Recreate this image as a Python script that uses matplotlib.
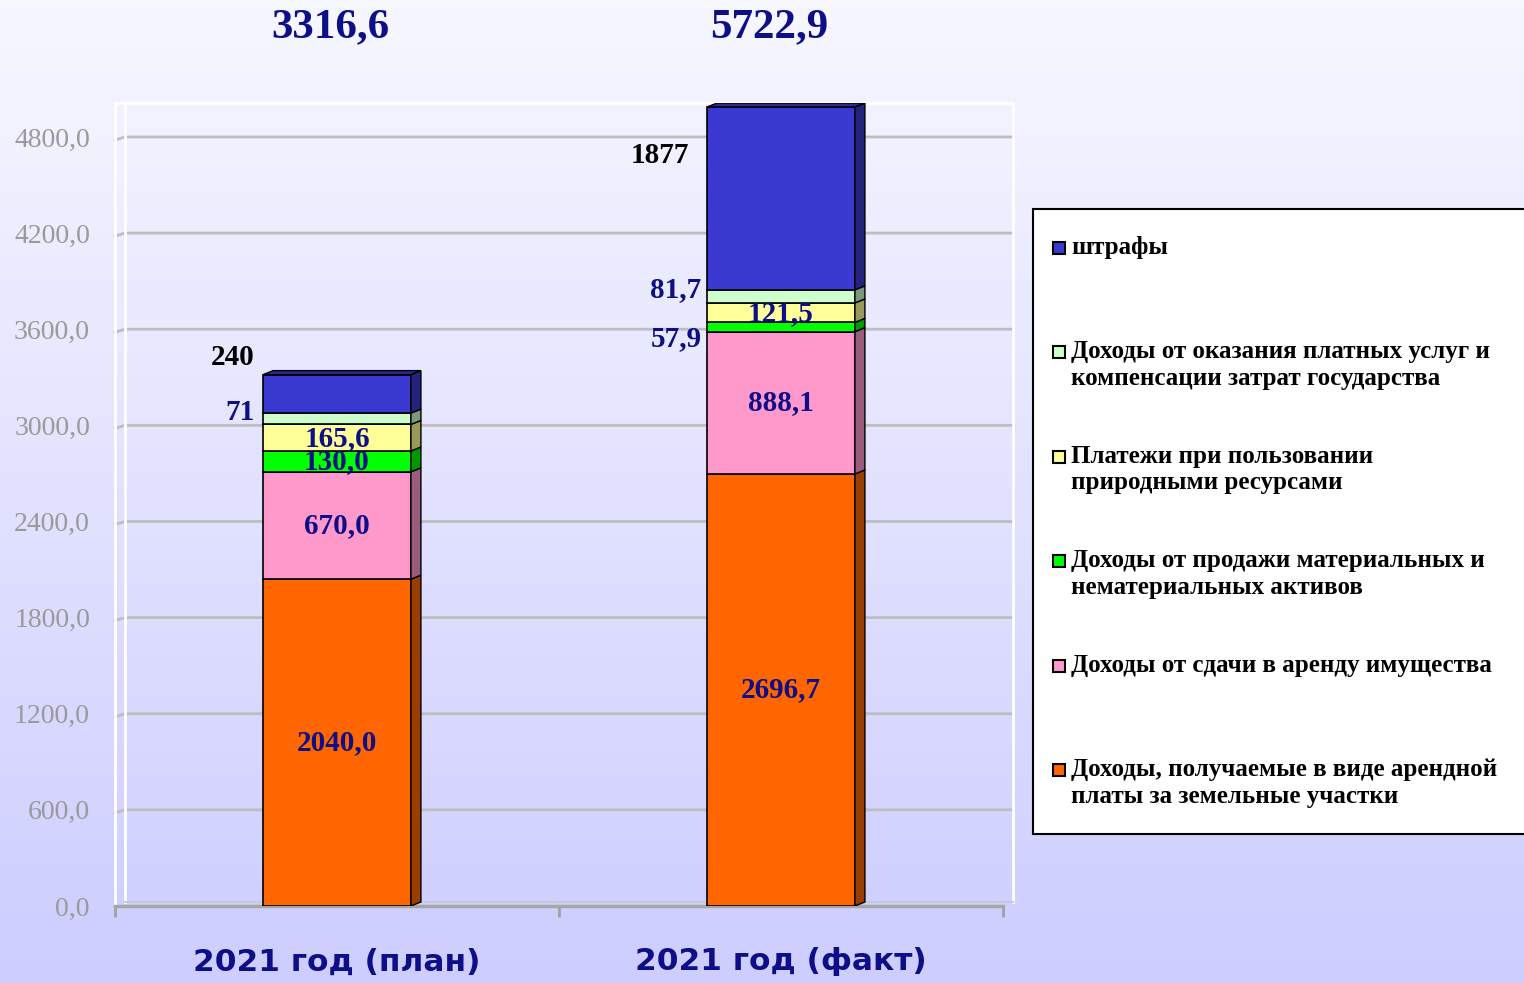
import numpy as np
import matplotlib.pyplot as plt
from matplotlib.patches import Polygon, Rectangle
from matplotlib.colors import to_rgb

periods = ["2021 год (план)", "2021 год (факт)"]
totals = ["3316,6", "5722,9"]

# статьи доходов, снизу вверх
series = ["Доходы, получаемые в виде арендной\nплаты за земельные участки",
          "Доходы от сдачи в аренду имущества",
          "Доходы от продажи материальных и\nнематериальных активов",
          "Платежи при пользовании\nприродными ресурсами",
          "Доходы от оказания платных услуг и\nкомпенсации затрат государства",
          "штрафы"]
colors = ["#FF6600", "#FF99CC", "#00FF00", "#FFFF99", "#CCFFCC", "#3A3AD0"]

plan = [2040.0, 670.0, 130.0, 165.6, 71.0, 240.0]
fact = [2696.7, 888.1, 57.9, 121.5, 81.7, 1877.0]
plan_labels = ["2040,0", "670,0", "130,0", "165,6", "71", "240"]
fact_labels = ["2696,7", "888,1", "57,9", "121,5", "81,7", "1877"]

# где ставить подпись: в сегменте или слева от столбца
plan_where = ["in", "in", "in", "in", "left", "left"]
fact_where = ["in", "in", "left", "in", "left", "left"]
plan_dy = [0, 0, 0, -5, 40, 224]
fact_dy = [0, 0, -70, -5, 40, -103]

yticks = np.arange(0, 4801, 600)

YMAX = 5012
DX = 0.0225   # глубина "3D" по x
DY = 25       # глубина по y
W = 0.333
NAVY = "#0E0E88"
SERIF = ["Liberation Serif", "DejaVu Serif"]


def darker(c, k=0.6):
    r, g, b = to_rgb(c)
    return (r * k, g * k, b * k)


fig = plt.figure(figsize=(15.24, 9.83), dpi=100)

# фон с градиентом
bg = fig.add_axes([0, 0, 1, 1], zorder=-10)
top_c = np.array([247, 247, 255]) / 255
bot_c = np.array([205, 205, 255]) / 255
t = np.linspace(0, 1, 256)[:, None, None]
grad = top_c * (1 - t) + bot_c * t
bg.imshow(np.repeat(grad, 2, axis=1), aspect="auto", extent=[0, 1, 0, 1])
bg.axis("off")

ax = fig.add_axes([115 / 1524, 77 / 983, 888 / 1524, 803 / 983])
ax.set_facecolor("none")
ax.set_xlim(-0.5, 1.5)
ax.set_ylim(0, YMAX)

# сетка на задней стенке
for yv in yticks[1:]:
    ax.plot([-0.5, -0.5 + DX, 1.5 + DX], [yv - 19, yv, yv], color="#BEBEBE",
            lw=2, clip_on=False, zorder=1)
# стенки
ax.plot([-0.5 + DX, -0.5 + DX], [DY, YMAX], color="white", lw=2, clip_on=False, zorder=1)
ax.plot([1.5 + DX, 1.5 + DX], [DY, YMAX], color="white", lw=2, clip_on=False, zorder=1)
ax.plot([-0.5, 1.5 + DX], [YMAX, YMAX], color="white", lw=2, clip_on=False, zorder=1)
ax.plot([-0.5 + DX, 1.5 + DX], [DY, DY], color="#C8C8D8", lw=1.5, clip_on=False, zorder=1)

for i, (vals, labs, where, dys) in enumerate([(plan, plan_labels, plan_where, plan_dy),
                                              (fact, fact_labels, fact_where, fact_dy)]):
    bottom = 0.0
    top_vis = YMAX - DY
    x_l = i - W / 2
    x_r = i + W / 2
    for j, v in enumerate(vals):
        b = min(bottom, top_vis)
        h = min(bottom + v, top_vis) - b
        ax.bar(i, h, W, bottom=b, color=colors[j], edgecolor="black", lw=1.2, zorder=3)
        side = Polygon([(x_r, b), (x_r + DX, b + DY), (x_r + DX, b + h + DY), (x_r, b + h)],
                       closed=True, facecolor=darker(colors[j]), edgecolor="black", lw=1, zorder=3)
        ax.add_patch(side)
        yc = bottom + v / 2 + dys[j]
        col = "black" if j == len(vals) - 1 else NAVY
        if where[j] == "in":
            ax.text(i, yc, labs[j], ha="center", va="center", fontsize=21,
                    fontweight="bold", color=col, family=SERIF, zorder=5)
        else:
            gap = 0.02 if i == 0 else 0.012
            if j == len(vals) - 1 and i == 1:
                gap = 0.04
            ax.text(x_l - gap, yc, labs[j], ha="right", va="center", fontsize=21,
                    fontweight="bold", color=col, family=SERIF, zorder=5)
        bottom += v
    ytop = min(bottom, top_vis)
    top = Polygon([(x_l, ytop), (x_l + DX, ytop + DY), (x_r + DX, ytop + DY), (x_r, ytop)],
                  closed=True, facecolor=darker(colors[-1], 0.7), edgecolor="black", lw=1, zorder=3)
    ax.add_patch(top)
    # итог сверху
    ax.text(i - 0.014 - 0.012 * i, 1.094, totals[i], transform=ax.get_xaxis_transform(),
            ha="center", va="center", fontsize=31, fontweight="bold", color=NAVY, family=SERIF)
    ax.text(i, -0.0697, periods[i], transform=ax.get_xaxis_transform(), ha="center",
            va="center", fontsize=22.5, fontweight="bold", color=NAVY, family="DejaVu Sans")

ax.set_yticks(yticks)
ax.set_yticklabels([f"{v:.1f}".replace(".", ",") for v in yticks], family=SERIF,
                   fontsize=20, color="#9A9A9A")
ax.tick_params(axis="y", length=0, pad=18)
ax.set_xticks([-0.5, 0.5, 1.5])
ax.set_xticklabels([])
ax.tick_params(axis="x", length=8, width=2, color="#A0A0A0", direction="out")
for s in ["top", "right"]:
    ax.spines[s].set_visible(False)
ax.spines["left"].set_color("white")
ax.spines["left"].set_linewidth(2)
ax.spines["bottom"].set_color("#A6A6A6")
ax.spines["bottom"].set_linewidth(2.5)

# легенда
fig.add_artist(Rectangle((1033 / 1524, 1 - 834 / 983), 0.4, 625 / 983,
                         transform=fig.transFigure, facecolor="white",
                         edgecolor="black", lw=1.5, zorder=2))
for k, j in enumerate(range(len(series) - 1, -1, -1)):
    yc = 248 + 104.4 * k
    fig.add_artist(Rectangle((1053 / 1524, 1 - (yc + 6) / 983), 12 / 1524, 12 / 983,
                             transform=fig.transFigure, facecolor=colors[j],
                             edgecolor="black", lw=1.5, zorder=3))
    fig.text(1071 / 1524, 1 - (yc - 12) / 983, series[j], ha="left", va="top",
             fontsize=18, fontweight="bold", family=SERIF, linespacing=1.2, zorder=4)

fig.savefig("out.png", dpi=100)
